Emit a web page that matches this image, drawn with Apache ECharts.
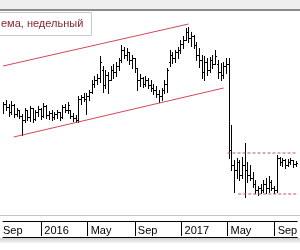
<!DOCTYPE html>
<html><head><meta charset="utf-8">
<script src="https://cdn.jsdelivr.net/npm/echarts@6/dist/echarts.min.js"></script>
<style>html,body{margin:0;padding:0;background:#fff}#c{width:300px;height:250px}</style>
</head><body><div id="c"></div><script>
// weekly bars, first week (Friday) date
const firstWeek = '2015-09-25';
const opens = [111,117,114,109,116,107,111,105,101,111, 104,113,102,109,112,105,115,106,108,104,
  107,109,104,114,111,111,105,103,101,122, 124,122,125,129,137,141,143,151,136,146,
  141,151,149,155,161,171,166,169,161,163, 153,141,143,137,141,136,133,131,127,125,
  131,137,159,166,163,169,171,177,181,189, 183,185,176,166,161,149,159,151,161,157,
  157,149,146,155,157,71,56,51,59,46, 56,51,46,43,37,31,33,31,37,33,
  39,33,31,63,59,61,56,59,61,57];
const highs = [119,121,117,120,117,113,111,107,113,111, 115,113,111,115,113,118,116,110,111,109,
  111,109,116,117,119,111,108,106,125,126, 128,128,131,141,145,147,165,155,151,149,
  155,157,159,163,176,174,173,169,166,163, 153,147,144,145,143,141,137,135,131,133,
  141,153,171,169,171,174,181,185,193,194, 189,186,179,173,166,165,163,164,166,171,
  161,158,159,163,163,96,61,63,61,64, 78,59,56,49,41,35,37,41,43,45,
  41,35,66,64,63,62,62,63,61,60];
const lows = [108,111,105,107,104,105,103,86,99,101, 100,99,101,105,102,104,103,102,101,102,
  103,101,103,109,108,103,100,99,99,117, 120,107,121,128,134,137,139,129,133,128,
  141,143,145,151,159,163,161,157,153,149, 131,135,134,135,133,130,127,124,119,121,
  128,129,155,158,159,163,168,173,181,179, 175,173,161,154,143,141,146,149,153,157,
  143,141,143,148,63,51,29,43,41,43, 24,39,41,34,28,26,28,29,28,29,
  31,28,29,56,55,53,55,57,54,55];
const closes = [117,114,109,116,107,111,105,101,111,104, 113,102,109,112,105,115,106,108,104,107,
  109,104,114,111,116,105,103,101,122,124, 122,125,129,137,141,143,159,136,146,141,
  151,149,155,161,171,166,169,161,163,153, 141,143,137,141,136,133,131,127,125,131,
  137,151,166,163,169,171,177,181,189,183, 185,176,166,161,149,159,151,161,157,165,
  149,146,155,157,71,56,51,59,46,56, 51,46,43,37,31,33,31,37,33,39,
  33,31,63,59,61,56,59,61,57,58];

const axisStart = '2015-09-23';
const axisEnd = '2017-10-30';
const periodStarts = ['2016-01-01','2016-05-01','2016-09-01','2017-01-01','2017-05-01','2017-09-01'];
const monthNames = ['Jan','Feb','Mar','Apr','May','Jun','Jul','Aug','Sep','Oct','Nov','Dec'];
const upperTrend = [['2015-09-23',155],['2017-01-19',197]];
const lowerTrend = [['2015-10-21',84],['2017-04-21',133]];
const rangeHigh = [['2017-05-01',68],['2017-10-30',68]];
const rangeLow = [['2017-05-29',27],['2017-10-30',27]];
const legendText = 'ема, недельный';

function parseDay(s){const p=s.split('-');return new Date(+p[0],+p[1]-1,+p[2]).getTime();}
const weeks = [];
{
  const t0 = parseDay(firstWeek);
  for (let i=0;i<opens.length;i++){const d=new Date(t0); d.setDate(d.getDate()+7*i); weeks.push(d.getTime());}
}
const ohlc = weeks.map((t,i)=>[t, opens[i], highs[i], lows[i], closes[i]]);
const toPts = arr => arr.map(p=>[parseDay(p[0]), p[1]]);

function renderItem(params, api){
  const t = api.value(0);
  const pO = api.coord([t, api.value(1)]);
  const pH = api.coord([t, api.value(2)]);
  const pL = api.coord([t, api.value(3)]);
  const pC = api.coord([t, api.value(4)]);
  const x = Math.floor(pH[0]);
  const yH = Math.round(pH[1]), yL = Math.round(pL[1]);
  return {type:'group', children:[
    {type:'rect', shape:{x:x, y:yH, width:1, height:Math.max(1, yL-yH+1)}, style:{fill:'#000'}},
    {type:'rect', shape:{x:x-1, y:Math.round(pO[1]), width:1, height:1}, style:{fill:'#000'}},
    {type:'rect', shape:{x:x+1, y:Math.round(pC[1]), width:1, height:1}, style:{fill:'#000'}}
  ]};
}

const chart = echarts.init(document.getElementById('c'), null, {renderer:'canvas'});
const font = 'Liberation Sans, Arial, sans-serif';
const xMin = parseDay(axisStart), xMax = parseDay(axisEnd);
chart.setOption({
  animation:false,
  backgroundColor:'#fff',
  grid:{left:0, right:0, top:10, bottom:28},
  xAxis:[{
    type:'value', min:xMin, max:xMax, scale:true,
    axisLine:{show:true, lineStyle:{color:'#000', width:1}},
    axisTick:{show:true, customValues:periodStarts.map(parseDay), length:15, lineStyle:{color:'#000'}},
    axisLabel:{show:true, customValues:[xMin].concat(periodStarts.map(parseDay)),
      formatter:function(v){
        const d=new Date(v);
        const s = d.getMonth()===0 ? String(d.getFullYear()) : monthNames[d.getMonth()];
        return v===xMin ? '{f|'+s+'}' : '{n|'+s+'}';
      },
      rich:{
        f:{padding:[0,0,0,0], fontSize:11, fontFamily:font, color:'#000'},
        n:{padding:[0,0,0,3], fontSize:11, fontFamily:font, color:'#000'}
      },
      align:'left', margin:3, fontSize:11, fontFamily:font, color:'#000'},
    splitLine:{show:false}
  },{
    type:'value', min:xMin, max:xMax, scale:true, position:'bottom', offset:15,
    axisLine:{show:true, lineStyle:{color:'#000', width:1}},
    axisTick:{show:false}, axisLabel:{show:false}, splitLine:{show:false}
  }],
  yAxis:{type:'value', min:-1, max:211, show:false, splitLine:{show:false}},
  series:[
    {type:'custom', renderItem:renderItem, data:ohlc, encode:{x:0, y:[1,2,3,4]}, clip:true, silent:true},
    {type:'line', data:toPts(upperTrend), symbol:'none', lineStyle:{color:'#d4475a', width:1}, silent:true},
    {type:'line', data:toPts(lowerTrend), symbol:'none', lineStyle:{color:'#d4475a', width:1}, silent:true},
    {type:'line', data:toPts(rangeHigh), symbol:'none', lineStyle:{color:'#b05a66', width:1, type:[3,2]}, silent:true},
    {type:'line', data:toPts(rangeLow), symbol:'none', lineStyle:{color:'#b05a66', width:1, type:[3,2]}, silent:true}
  ],
  graphic:[
    {type:'rect', shape:{x:0, y:0, width:300, height:9}, style:{fill:'#efefef'}, z:10},
    {type:'rect', shape:{x:0, y:9, width:300, height:2}, style:{fill:'#8a8a8a'}, z:10},
    {type:'rect', shape:{x:-1.5, y:12.5, width:93, height:23}, style:{fill:'#fff', stroke:'#c8c8c8', lineWidth:1}, z:10},
    {type:'text', x:1, y:24, style:{text:legendText, fill:'#8b2430', font:'11px '+font, verticalAlign:'middle'}, z:11},
    {type:'rect', shape:{x:0, y:215, width:300, height:1}, style:{fill:'#c4c4c4'}, z:1},
    {type:'rect', shape:{x:0, y:238, width:300, height:5},
      style:{fill:new echarts.graphic.LinearGradient(0,0,0,1,[{offset:0,color:'#cfcfcf'},{offset:1,color:'#f6f6f6'}])}, z:10}
  ]
});
</script></body></html>
